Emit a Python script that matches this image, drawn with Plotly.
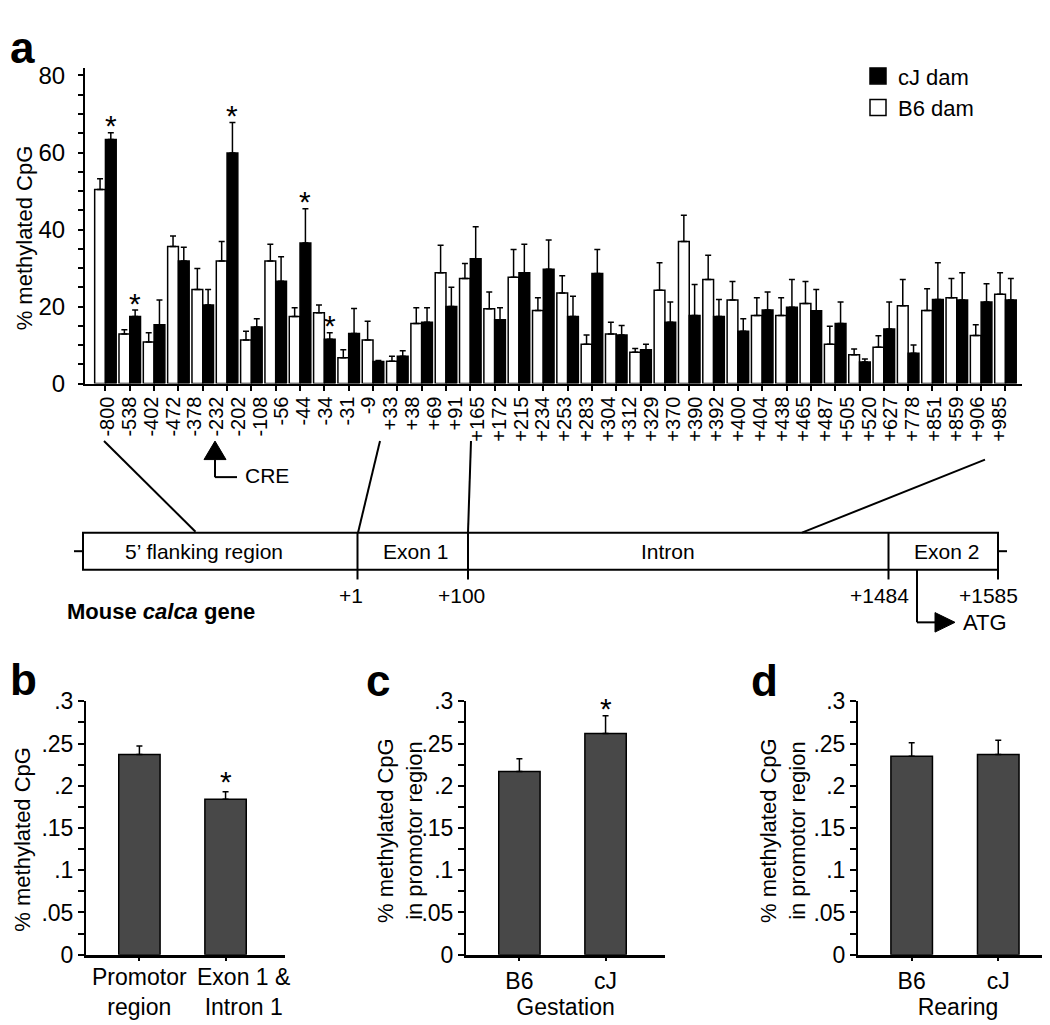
import plotly.graph_objects as go

# ---------------- data ----------------
site_labels = ["-800", "-538", "-402", "-472", "-378", "-232", "-202", "-108", "-56", "-44",
               "-34", "-31", "-9", "+33", "+38", "+69", "+91", "+165", "+172", "+215",
               "+234", "+253", "+283", "+304", "+312", "+329", "+370", "+390", "+392", "+400",
               "+404", "+438", "+465", "+487", "+505", "+520", "+627", "+778", "+851", "+859",
               "+906", "+985"]

b6_dam = [50.4, 12.9, 10.8, 35.6, 24.4, 31.8, 11.3, 31.8, 17.4, 18.4,
          6.7, 11.3, 5.8, 15.6, 28.8, 27.3, 19.4, 27.6, 19.0, 23.5,
          10.2, 12.9, 8.1, 24.2, 36.9, 27.0, 21.7, 17.7, 17.7, 20.8,
          10.2, 7.5, 9.4, 20.2, 19.0, 22.3, 12.5, 23.2]
b6_dam_err = [2.8, 1.1, 2.4, 2.7, 5.5, 5.1, 2.3, 4.4, 2.3, 2.0,
              2.1, 4.9, 1.3, 4.1, 7.1, 3.9, 4.4, 7.2, 3.3, 4.5,
              2.4, 3.0, 1.0, 7.2, 6.8, 6.3, 4.8, 4.6, 4.6, 5.7,
              4.7, 1.5, 3.0, 6.8, 5.6, 5.0, 2.8, 5.6]
cj_dam = [63.4, 17.4, 15.3, 31.8, 20.4, 59.9, 14.7, 26.6, 36.5, 11.5,
          13.0, 5.7, 7.1, 15.9, 20.0, 32.4, 16.6, 28.8, 29.7, 17.4,
          28.6, 12.6, 8.8, 15.9, 17.7, 17.4, 13.6, 19.1, 19.8, 18.9,
          15.6, 5.6, 14.2, 7.9, 21.8, 21.7, 21.2, 21.7]
cj_dam_err = [1.7, 1.7, 6.4, 3.6, 4.0, 7.9, 2.1, 6.3, 8.9, 1.7,
              6.5, 0.3, 1.4, 3.8, 5.0, 8.3, 3.1, 7.4, 7.6, 5.3,
              6.2, 2.5, 1.4, 5.3, 8.0, 4.4, 3.2, 4.7, 7.2, 5.5,
              5.6, 0.8, 7.0, 2.1, 9.6, 7.1, 4.7, 5.6]
cj_sig = [0, 1, 5, 8, 9]

regions = ["Promotor<br>region", "Exon 1 &<br>Intron 1"]
region_vals = [0.237, 0.184]
region_err = [0.010, 0.009]
region_sig = [1]

gestation = ["B6", "cJ"]
gestation_vals = [0.217, 0.262]
gestation_err = [0.015, 0.021]
gestation_sig = [1]

rearing = ["B6", "cJ"]
rearing_vals = [0.235, 0.237]
rearing_err = [0.016, 0.017]

small_tickvals = [0, 0.05, 0.1, 0.15, 0.2, 0.25, 0.3]
small_ticktext = ["0", ".05", ".1", ".15", ".2", ".25", ".3"]

# ---------------- helpers ----------------
W, H = 1050, 1025
FONT = "Liberation Sans, Arial, sans-serif"


def px(x):
    return x / W


def py(y):
    return 1 - y / H


pos = list(range(len(b6_dam)))
BAR_OFF = 0.885 / 4

fig = go.Figure()

# Panel a bars
fig.add_trace(go.Bar(x=pos, y=b6_dam, name="B6 dam", showlegend=False,
                     marker=dict(color="white", line=dict(color="black", width=1.5)),
                     error_y=dict(type="data", symmetric=False, array=b6_dam_err,
                                  arrayminus=[0] * len(b6_dam), color="black",
                                  thickness=1.5, width=3),
                     xaxis="x", yaxis="y"))
fig.add_trace(go.Bar(x=pos, y=cj_dam, name="cJ dam", showlegend=False,
                     marker=dict(color="black", line=dict(color="black", width=1.5)),
                     error_y=dict(type="data", symmetric=False, array=cj_dam_err,
                                  arrayminus=[0] * len(cj_dam), color="black",
                                  thickness=1.5, width=3),
                     xaxis="x", yaxis="y"))

# site labels on an overlaying category axis
fig.add_trace(go.Scatter(x=site_labels, y=[0] * len(site_labels), mode="markers",
                         marker=dict(opacity=0), hoverinfo="skip", showlegend=False,
                         xaxis="x5", yaxis="y"))

# legend entries
fig.add_trace(go.Scatter(x=[None], y=[None], mode="markers", name="cJ dam",
                         marker=dict(symbol="square", size=20, color="black",
                                     line=dict(color="black", width=1.5)),
                         xaxis="x", yaxis="y"))
fig.add_trace(go.Scatter(x=[None], y=[None], mode="markers", name="B6 dam",
                         marker=dict(symbol="square", size=20, color="white",
                                     line=dict(color="black", width=1.5)),
                         xaxis="x", yaxis="y"))

# small panels
GREY = "#484848"
for cats, vals, errs, xa, ya in [(regions, region_vals, region_err, "x2", "y2"),
                                 (gestation, gestation_vals, gestation_err, "x3", "y3"),
                                 (rearing, rearing_vals, rearing_err, "x4", "y4")]:
    fig.add_trace(go.Bar(x=cats, y=vals, width=0.48, showlegend=False,
                         marker=dict(color=GREY, line=dict(color="black", width=1.5)),
                         error_y=dict(type="data", symmetric=False, array=errs,
                                      arrayminus=[0] * len(vals), color="black",
                                      thickness=1.5, width=3),
                         xaxis=xa, yaxis=ya))

axis_common = dict(showgrid=False, zeroline=False, showline=True, linecolor="black",
                   linewidth=2, ticks="outside", tickcolor="black", tickwidth=1.5,
                   tickfont=dict(family=FONT, size=23, color="black"))

small_y = dict(axis_common, range=[0, 0.3], tickvals=small_tickvals, ticktext=small_ticktext,
               ticklen=6, domain=[py(958), py(698)],
               minor=dict(dtick=0.025, ticks="outside", ticklen=6, tickcolor="black",
                          tickwidth=1.5, showgrid=False))
small_x = dict(axis_common, range=[-0.62, 1.69], ticklen=4, linewidth=2.5, tickangle=0)

fig.update_layout(
    width=W, height=H, margin=dict(l=0, r=0, t=0, b=0),
    paper_bgcolor="white", plot_bgcolor="white",
    font=dict(family=FONT, color="black", size=22),
    barmode="group", bargap=0.115, bargroupgap=0,
    showlegend=True,
    legend=dict(x=px(850), y=py(35), xanchor="left", yanchor="top",
                font=dict(family=FONT, size=22, color="black"),
                bgcolor="rgba(0,0,0,0)", tracegroupgap=0, itemclick=False),
    xaxis=dict(axis_common, domain=[px(77), px(1014)], range=[-0.84, 37.68],
               tickvals=pos, showticklabels=False, ticklen=5, anchor="y"),
    yaxis=dict(axis_common, domain=[py(372), py(48)], range=[0, 82], dtick=20,
               ticklen=5, ticklabelstandoff=8, anchor="x",
               tickfont=dict(family=FONT, size=24, color="black"),
               minor=dict(dtick=5, ticks="outside", ticklen=5, tickcolor="black",
                          tickwidth=1.5, showgrid=False)),
    xaxis5=dict(overlaying="x", anchor="y", side="bottom", range=[-1.057, 42.03],
                type="category", categoryorder="array", categoryarray=site_labels,
                tickmode="array", tickvals=site_labels, ticktext=site_labels,
                showgrid=False, zeroline=False, showline=False, ticks="",
                tickangle=-90, ticklabelstandoff=8,
                tickfont=dict(family=FONT, size=20, color="black")),
    xaxis2=dict(small_x, domain=[px(78), px(277)], anchor="y2", showticklabels=False),
    yaxis2=dict(small_y, anchor="x2"),
    xaxis3=dict(small_x, domain=[px(458), px(657)], anchor="y3",
                title=dict(text="Gestation", standoff=2,
                           font=dict(family=FONT, size=23, color="black"))),
    yaxis3=dict(small_y, anchor="x3"),
    xaxis4=dict(small_x, domain=[px(850), px(1050)], anchor="y4",
                title=dict(text="Rearing", standoff=2,
                           font=dict(family=FONT, size=23, color="black"))),
    yaxis4=dict(small_y, anchor="x4"),
)

ann = []


def text(x, y, s, size=22, xanchor="center", yanchor="middle", angle=0):
    ann.append(dict(x=px(x), y=py(y), xref="paper", yref="paper", text=s, showarrow=False,
                    xanchor=xanchor, yanchor=yanchor, textangle=angle,
                    font=dict(family=FONT, size=size, color="black")))


# panel letters
text(0, 0, "<b>a</b>", size=44, xanchor="left", yanchor="top")
text(0, 676, "<b>b</b>", size=44, xanchor="left")
text(356, 677, "<b>c</b>", size=44, xanchor="left")
text(741, 677, "<b>d</b>", size=44, xanchor="left")

# y titles
text(16, 223, "% methylated CpG", size=22, angle=-90)
text(15, 840, "% methylated CpG", size=22, angle=-90)
text(392, 831, "% methylated CpG<br>in promotor region", size=22, angle=-90)
text(775, 831, "% methylated CpG<br>in promotor region", size=22, angle=-90)

# panel b category labels (second one sits right of its tick, as in the original)
for i, shift in zip(range(len(regions)), [0, 18]):
    ann.append(dict(x=regions[i], y=py(996), xref="x2", yref="paper", text=regions[i],
                    showarrow=False, xanchor="center", yanchor="middle", xshift=shift,
                    font=dict(family=FONT, size=23, color="black")))

# significance stars
for i in cj_sig:
    ann.append(dict(x=i + BAR_OFF, y=cj_dam[i] + cj_dam_err[i], xref="x", yref="y",
                    text="*", showarrow=False, yanchor="middle", yshift=7,
                    font=dict(family=FONT, size=30, color="black")))
for i in region_sig:
    ann.append(dict(x=regions[i], y=region_vals[i] + region_err[i], xref="x2", yref="y2",
                    text="*", showarrow=False, yanchor="middle", yshift=10,
                    font=dict(family=FONT, size=30, color="black")))
for i in gestation_sig:
    ann.append(dict(x=gestation[i], y=gestation_vals[i] + gestation_err[i], xref="x3", yref="y3",
                    text="*", showarrow=False, yanchor="middle", yshift=7,
                    font=dict(family=FONT, size=30, color="black")))

# gene diagram text
text(235, 466, "CRE", size=21, xanchor="left")
text(196, 544, "5’ flanking region", size=21)
text(407, 544, "Exon 1", size=21)
text(660, 544, "Intron", size=21)
text(938, 544, "Exon 2", size=21)
text(343, 589, "+1", size=21)
text(453, 589, "+100", size=21)
text(871, 589, "+1484", size=21)
text(980, 589, "+1585", size=21)
text(57, 606, "<b>Mouse <i>calca</i> gene</b>", size=22, xanchor="left")
text(953, 617, "ATG", size=22, xanchor="left")

fig.update_layout(annotations=ann)

shapes = []


def line(x0, y0, x1, y1, w=2):
    shapes.append(dict(type="line", xref="paper", yref="paper", x0=px(x0), y0=py(y0),
                       x1=px(x1), y1=py(y1), line=dict(color="black", width=w)))


def poly(points):
    d = "M " + " L ".join(f"{px(x)},{py(y)}" for x, y in points) + " Z"
    shapes.append(dict(type="path", xref="paper", yref="paper", path=d,
                       fillcolor="black", line=dict(color="black", width=1)))


# gene box
shapes.append(dict(type="rect", xref="paper", yref="paper", x0=px(75), x1=px(990),
                   y0=py(563), y1=py(525), line=dict(color="black", width=2)))
line(66, 544, 75, 544)
line(990, 544, 999, 544)
line(349.5, 525, 349.5, 573)
line(460, 525, 460, 573)
line(880.5, 525, 880.5, 573)
line(990, 563, 990, 573)
# connectors
line(96, 431, 187.5, 524)
line(372, 431, 350, 525)
line(463, 431, 460, 525)
line(977, 450, 794, 525)
# CRE arrow
poly([(207, 431), (196, 450), (218, 450)])
line(207, 450, 207, 468)
line(207, 468, 229, 468)
# ATG arrow
line(909, 563, 909, 617)
line(909, 617, 928, 617)
poly([(927, 607), (927, 627), (947, 617)])

fig.update_layout(shapes=shapes)

fig.write_html("out.html")
